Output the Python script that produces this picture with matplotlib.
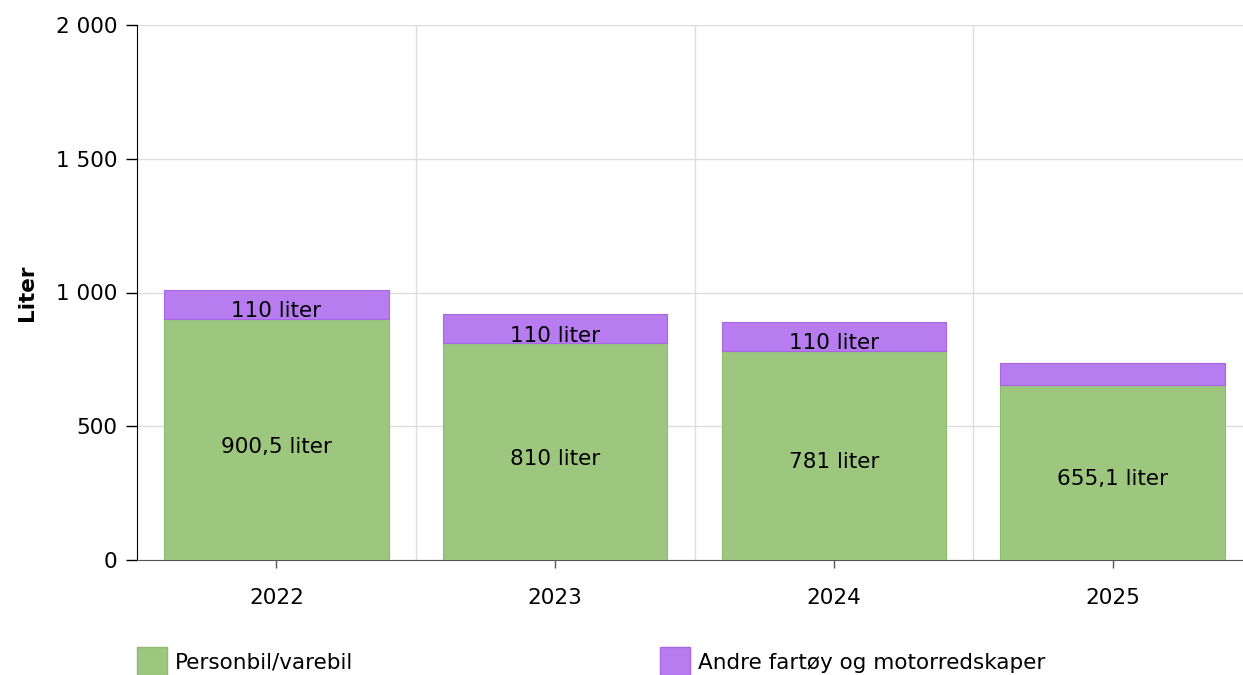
import matplotlib
matplotlib.use('Agg')
from matplotlib import pyplot as plt
from matplotlib.patches import Rectangle
from matplotlib.ticker import FuncFormatter, MultipleLocator

years = ['2022', '2023', '2024', '2025']
personbil = [900.5, 810, 781, 655.1]
andre = [110, 110, 110, 82]
personbil_labels = ['900,5 liter', '810 liter', '781 liter', '655,1 liter']
andre_labels = ['110 liter', '110 liter', '110 liter', '']

green = '#9dc67f'
purple = '#b77cf0'
fs = 15.5

plt.rcParams['font.family'] = ['DejaVu Sans']

fig = plt.figure(figsize=(12.43, 6.75), dpi=100)
# plot area runs slightly past the right edge, as in the original
ax = fig.add_axes([137 / 1243, 1 - 560 / 675, 1115 / 1243, 535 / 675])

x = list(range(len(years)))
ax.bar(x, personbil, width=0.805, color=green, edgecolor='#8fbb6f', linewidth=0.8, zorder=3)
ax.bar(x, andre, width=0.805, bottom=personbil, color=purple, edgecolor='#a866e6', linewidth=0.8, zorder=3)

# value labels, centered in segments (slightly lowered like the original)
for i in x:
    ax.annotate(personbil_labels[i], (i, personbil[i] / 2), xytext=(0, -5), textcoords='offset points',
                ha='center', va='center', fontsize=fs, color='black', zorder=4)
    if andre_labels[i]:
        ax.annotate(andre_labels[i], (i, personbil[i] + andre[i] / 2), xytext=(0, -5), textcoords='offset points',
                    ha='center', va='center', fontsize=fs, color='black', zorder=4)

ax.set_xlim(-0.5, len(years) - 0.5)
ax.set_ylim(0, 2000)
ax.yaxis.set_major_locator(MultipleLocator(500))
ax.yaxis.set_major_formatter(FuncFormatter(lambda v, p: f'{int(v):,}'.replace(',', ' ')))
ax.set_xticks(x)
ax.set_xticklabels(years)

# grid: horizontal at y ticks, vertical at category boundaries
ax.set_xticks([i + 0.5 for i in x[:-1]], minor=True)
ax.grid(axis='y', which='major', color='#dddddd', linewidth=1, zorder=0)
ax.grid(axis='x', which='minor', color='#dddddd', linewidth=1, zorder=0)
ax.tick_params(axis='x', which='minor', length=0)

for s in ['top', 'right']:
    ax.spines[s].set_visible(False)
ax.spines['left'].set_color('black')
ax.spines['bottom'].set_color('#555555')
ax.tick_params(axis='y', length=8, width=1, labelsize=fs, pad=6, color='black')
ax.tick_params(axis='x', which='major', length=6, width=1, labelsize=fs, pad=14, color='#555555')

ax.set_ylabel('Liter', fontsize=fs, fontweight='bold', labelpad=14)

# legend along the bottom
legend_items = [(137, green, '#8fbb6f', 'Personbil/varebil'),
                (660, purple, '#a866e6', 'Andre fartøy og motorredskaper')]
for px, fc, ec, label in legend_items:
    fig.add_artist(Rectangle((px / 1243, 0), 30 / 1243, 28 / 675, transform=fig.transFigure,
                             facecolor=fc, edgecolor=ec, linewidth=1))
    fig.text((px + 38) / 1243, 12 / 675, label, fontsize=fs, va='center', ha='left')

fig.savefig('out.png', dpi=100)
